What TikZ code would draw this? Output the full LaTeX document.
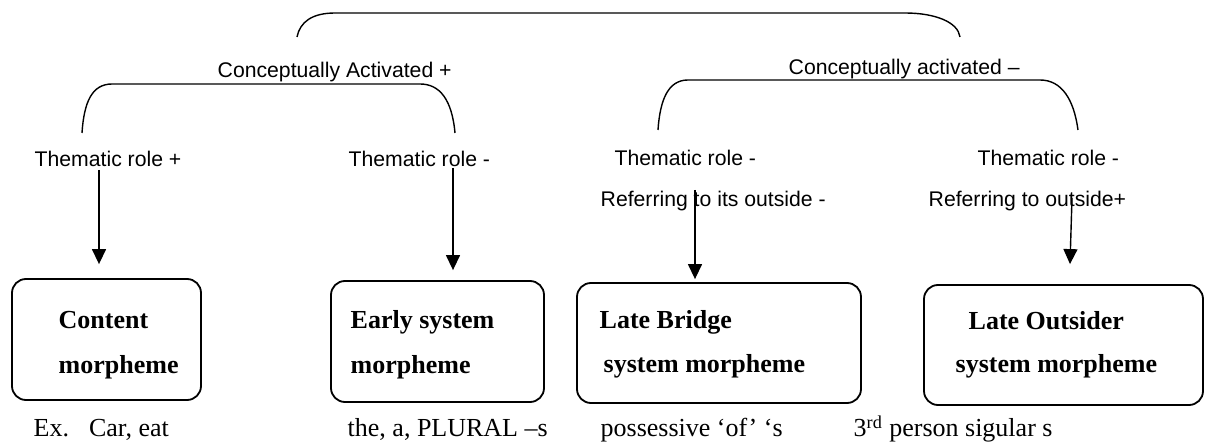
\documentclass[tikz,border=0pt]{standalone}
\usepackage{fontspec}
\setmainfont{Liberation Serif}
\setsansfont{Liberation Sans}
\usetikzlibrary{arrows.meta,calc}

\tikzset{
  lbl/.style={font=\sffamily\fontsize{10.6}{12}\selectfont,inner sep=0pt,anchor=base west},
  mbox/.style={draw,line width=0.9pt,rounded corners=7pt,inner sep=0pt},
  mtxt/.style={font=\bfseries\fontsize{13}{15}\selectfont,inner sep=0pt,anchor=base west},
  extxt/.style={font=\fontsize{13}{15}\selectfont,inner sep=0pt,anchor=base west},
}

\begin{document}
\begin{tikzpicture}[x=0.5pt,y=-0.5pt,>={Triangle[width=7pt,length=7.5pt]},line width=0.7pt]
  \useasboundingbox (0,0) rectangle (1207,443);

  % Brackets
  \draw (297,37) .. controls (300,22) and (312,13) .. (335,13) -- (905,13) .. controls (935,13) and (958,22) .. (960,37);
  \draw (82,133) .. controls (84,102) and (92,84) .. (112,84) -- (420,84) .. controls (440,84) and (452,100) .. (455,133);
  \draw (658,130) .. controls (660,100) and (668,80) .. (688,80) -- (1040,80) .. controls (1062,80) and (1074,100) .. (1078,130);

  % Feature labels
  \node[lbl] (ca1) at (217,78) {Conceptually Activated +};
  \node[lbl] (ca2) at (788,75) {Conceptually activated --};
  \node[lbl] (tr1) at (34,167) {Thematic role +};
  \node[lbl] (tr2) at (348,167) {Thematic role -};
  \node[lbl] (tr3) at (614,166) {Thematic role -};
  \node[lbl] (tr4) at (977,166) {Thematic role -};
  \node[lbl] (rf3) at (600,207) {Referring to its outside -};
  \node[lbl] (rf4) at (928,207) {Referring to outside+};

  % Morpheme boxes
  \node[mbox,minimum width=94.5pt,minimum height=60.5pt] (cm) at (106.5,339.5) {};
  \node[mbox,minimum width=106.5pt,minimum height=60.5pt] (es) at (437.5,341.5) {};
  \node[mbox,minimum width=142pt,minimum height=60pt] (lb) at (719,343) {};
  \node[mbox,minimum width=139.5pt,minimum height=60pt] (lo) at (1063.5,345) {};

  \node[mtxt] (cm1) at (58,329) {Content};
  \node[mtxt] (cm2) at (58,374) {morpheme};
  \node[mtxt] (es1) at (350,329) {Early system};
  \node[mtxt] (es2) at (350,374) {morpheme};
  \node[mtxt] (lb1) at (599,329) {Late Bridge};
  \node[mtxt] (lb2) at (603,373) {system morpheme};
  \node[mtxt] (lo1) at (968,330) {Late Outsider};
  \node[mtxt] (lo2) at (955,373) {system morpheme};

  % Examples
  \node[extxt] (ex1) at (33,437) {Ex.\hspace{10pt}Car, eat};
  \node[extxt] (ex2) at (347,437) {the, a, PLURAL --s};
  \node[extxt] (ex3) at (600,437) {possessive ‘of’ ‘s};
  \node[extxt] (ex4) at (853,437) {3\textsuperscript{rd} person sigular s};

  % Arrows
  \draw[->] ([shift={(65,3)}]tr1.base west) -- ([shift={(-7.5,-14)}]cm.north);
  \draw[->] ([shift={(105,1)}]tr2.base west) -- ([shift={(15.5,-10)}]es.north);
  \draw[->] ([shift={(95,-17)}]rf3.base west) -- ([shift={(-24,-3)}]lb.north);
  \draw[->] ([shift={(144,-9)}]rf4.base west) -- ([shift={(6.5,-20)}]lo.north);
\end{tikzpicture}
\end{document}
